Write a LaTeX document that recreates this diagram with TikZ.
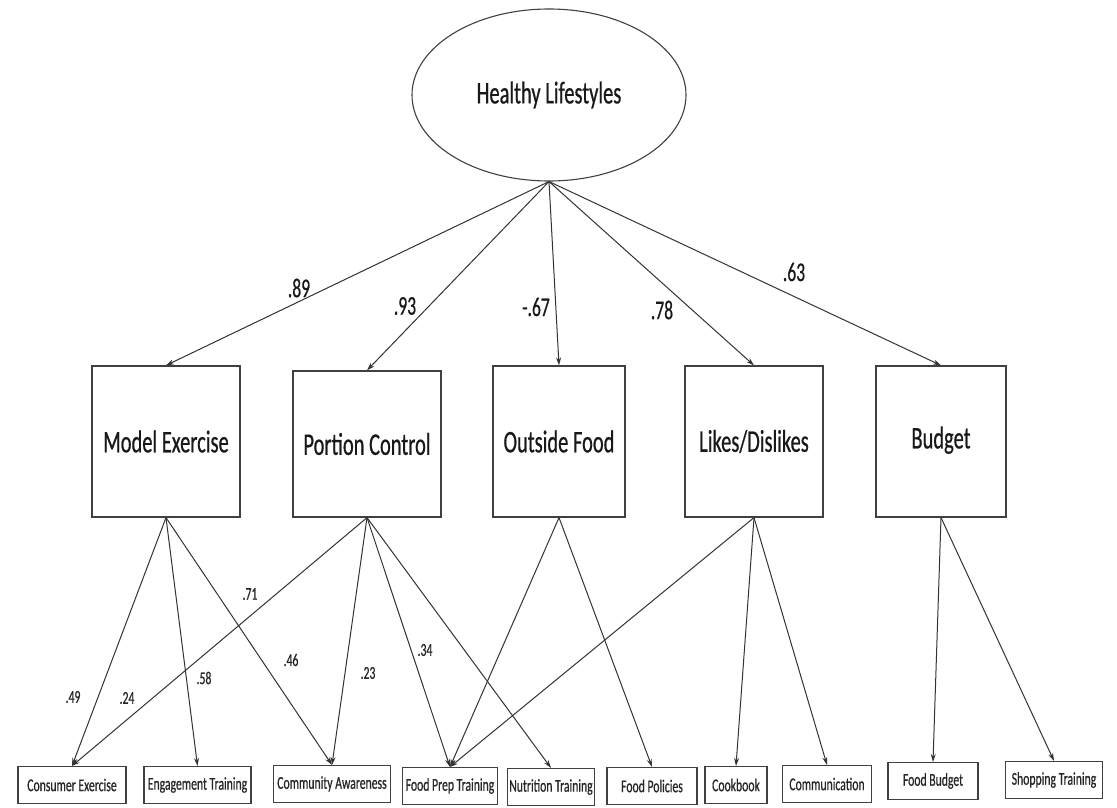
\documentclass[tikz,border=0pt]{standalone}
\usepackage{fontspec}
\setmainfont{Carlito}[FakeStretch=0.65, FakeBold=0.6]
\usetikzlibrary{arrows.meta, shapes.geometric}

\begin{document}
\begin{tikzpicture}[
        x=1pt, y=-1pt,
        >={Stealth[length=8pt,width=5pt]},
        latent/.style={
            draw=black!75,
            ellipse,
            line width=1.1pt,
            minimum width=274pt,
            minimum height=172pt,
            inner sep=0pt,
            text=black!90,
            font=\fontsize{31.5}{36}\selectfont
        },
        factor/.style={
            draw=black!75,
            rectangle,
            line width=1.2pt,
            minimum height=151pt,
            inner sep=0pt,
            text=black!90,
            font=\fontsize{31.5}{36}\selectfont
        },
        indicator/.style={
            draw=black!75,
            rectangle,
            line width=1.1pt,
            minimum height=37pt,
            inner sep=0pt,
            text=black!85,
            font=\fontsize{18}{20}\selectfont
        },
        line_arrow/.style={draw=black!80, line width=1pt, ->},
        coef/.style={text=black!90, font=\fontsize{27}{30}\selectfont},
        coef_small/.style={text=black!85, font=\fontsize{18}{20}\selectfont}
    ]
    \useasboundingbox (0,0) rectangle (1117,808);

    % Root
    \node[latent] (healthy) at (549,95) {Healthy Lifestyles};

    % Level 1
    \node[factor, minimum width=148pt] (model) at (166,441.5) {Model Exercise};
    \node[factor, minimum width=148pt, minimum height=146pt] (portion) at (367,444) {Portion Control};
    \node[factor, minimum width=132pt] (outside) at (559,441.5) {Outside Food};
    \node[factor, minimum width=138pt] (likes) at (754,441.5) {Likes/Dislikes};
    \node[factor, minimum width=130pt] (budget) at (941,441.5) {\raisebox{8pt}{Budget}};

    \draw[line_arrow] (healthy.south) -- (model.north);
    \draw[line_arrow] (healthy.south) -- (portion.north);
    \draw[line_arrow] (healthy.south) -- (outside.north);
    \draw[line_arrow] (healthy.south) -- (likes.north);
    \draw[line_arrow] (healthy.south) -- (budget.north);

    \node[coef] (c_model) at (299,288) {.89};
    \node[coef] (c_portion) at (405,306) {.93};
    \node[coef] (c_outside) at (536,307) {-.67};
    \node[coef] (c_likes) at (662,310) {.78};
    \node[coef] (c_budget) at (794,272) {.63};

    % Level 2
    \node[indicator, minimum width=108pt] (consumer_ex) at (72,785) {Consumer Exercise};
    \node[indicator, minimum width=107pt] (engagement) at (197.5,785) {Engagement Training};
    \node[indicator, minimum width=117pt] (community) at (332,784) {Community Awareness};
    \node[indicator, minimum width=95pt] (food_prep) at (450,786) {Food Prep Training};
    \node[indicator, minimum width=87pt] (nutrition) at (551,787) {Nutrition Training};
    \node[indicator, minimum width=90pt] (food_pol) at (652,786) {Food Policies};
    \node[indicator, minimum width=62pt] (cookbook) at (736,785) {Cookbook};
    \node[indicator, minimum width=89pt] (communication) at (827,784) {Communication};
    \node[indicator, minimum width=90pt] (food_budget) at (933,781) {Food Budget};
    \node[indicator, minimum width=97pt] (shopping) at (1054,780) {Shopping Training};

    \draw[line_arrow] (model.south) -- (consumer_ex.north);
    \draw[line_arrow] (model.south) -- (engagement.north);
    \draw[line_arrow] (model.south) -- (community.north);

    \draw[line_arrow] (portion.south) -- (consumer_ex.north);
    \draw[line_arrow] (portion.south) -- (community.north);
    \draw[line_arrow] (portion.south) -- (food_prep.north);
    \draw[line_arrow] (portion.south) -- (nutrition.north);

    \draw[line_arrow] (outside.south) -- (food_prep.north);
    \draw[line_arrow] (outside.south) -- (food_pol.north);

    \draw[line_arrow] (likes.south) -- (food_prep.north);
    \draw[line_arrow] (likes.south) -- (cookbook.north);
    \draw[line_arrow] (likes.south) -- (communication.north);

    \draw[line_arrow] (budget.south) -- (food_budget.north);
    \draw[line_arrow] (budget.south) -- (shopping.north);

    \node[coef_small] (c_71) at (250,594) {.71};
    \node[coef_small] (c_49) at (73,697) {.49};
    \node[coef_small] (c_24) at (127,698) {.24};
    \node[coef_small] (c_58) at (204,678) {.58};
    \node[coef_small] (c_46) at (291,660) {.46};
    \node[coef_small] (c_23) at (368,673) {.23};
    \node[coef_small] (c_34) at (425,650) {.34};

\end{tikzpicture}
\end{document}
